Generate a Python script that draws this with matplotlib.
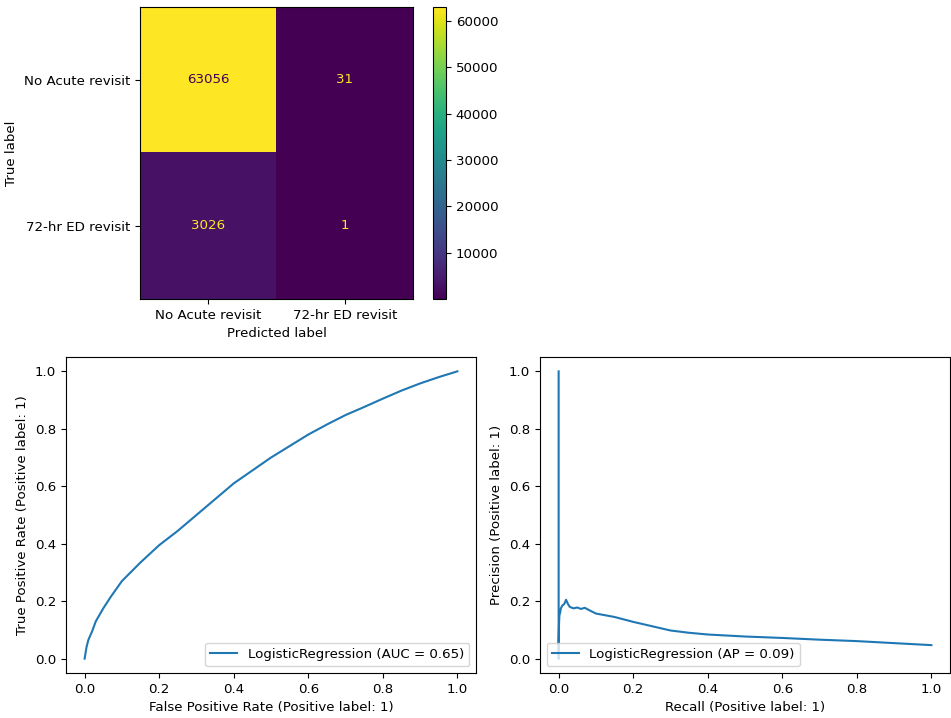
import numpy as np
import matplotlib
matplotlib.use("Agg")
import matplotlib.pyplot as plt

# confusion matrix
class_labels = ["No Acute revisit", "72-hr ED revisit"]
cm = np.array([[63056, 31],
               [3026, 1]])

# ROC curve
fpr = [0.0, 0.005, 0.01, 0.02, 0.03, 0.05, 0.07, 0.1, 0.15, 0.2, 0.25, 0.3,
       0.35, 0.4, 0.45, 0.5, 0.55, 0.6, 0.65, 0.7, 0.75, 0.8, 0.85, 0.9,
       0.95, 1.0]
tpr = [0.0, 0.04, 0.065, 0.095, 0.13, 0.175, 0.215, 0.27, 0.335, 0.395,
       0.445, 0.5, 0.555, 0.61, 0.655, 0.7, 0.74, 0.78, 0.815, 0.848,
       0.876, 0.905, 0.933, 0.958, 0.98, 1.0]
roc_auc = 0.65

# precision-recall curve
recall = [0.0, 0.0, 0.0, 0.001, 0.002, 0.004, 0.006, 0.01, 0.015, 0.02,
          0.025, 0.03, 0.04, 0.05, 0.06, 0.07, 0.08, 0.1, 0.15, 0.2, 0.25,
          0.3, 0.35, 0.4, 0.5, 0.6, 0.7, 0.8, 0.9, 1.0]
precision = [1.0, 0.0, 0.06, 0.12, 0.15, 0.16, 0.175, 0.185, 0.19, 0.205,
             0.19, 0.18, 0.175, 0.178, 0.173, 0.177, 0.17, 0.157, 0.145,
             0.128, 0.113, 0.098, 0.09, 0.084, 0.077, 0.072, 0.066, 0.061,
             0.054, 0.047]
avg_prec = 0.09

W, H = 951, 718
plt.rcParams['font.size'] = 9.6
fig = plt.figure(figsize=(W / 100, H / 100), dpi=100)

def box(l, t, r, b):
    return [l / W, 1 - b / H, (r - l) / W, (b - t) / H]

# --- confusion matrix
ax_cm = fig.add_axes(box(140, 7, 413, 299))
cax = fig.add_axes(box(433, 7, 446, 299))
cmap = plt.get_cmap("viridis")
im = ax_cm.imshow(cm, cmap=cmap, aspect="auto", interpolation="nearest")
thresh = (cm.max() + cm.min()) / 2.0
for i in range(cm.shape[0]):
    for j in range(cm.shape[1]):
        col = cmap(0.0) if cm[i, j] > thresh else cmap(1.0)
        ax_cm.text(j, i, str(cm[i, j]), ha="center", va="center", color=col)
ax_cm.set_xticks(range(2))
ax_cm.set_xticklabels(class_labels)
ax_cm.set_yticks(range(2))
ax_cm.set_yticklabels(class_labels)
ax_cm.set_xlabel("Predicted label")
ax_cm.set_ylabel("True label")
fig.colorbar(im, cax=cax)

# --- ROC
ax_roc = fig.add_axes(box(66, 357, 476, 673))
ax_roc.plot(fpr, tpr, label=f"LogisticRegression (AUC = {roc_auc:.2f})")
ax_roc.set_xlabel("False Positive Rate (Positive label: 1)")
ax_roc.set_ylabel("True Positive Rate (Positive label: 1)")
ax_roc.set_xlim(-0.05, 1.05)
ax_roc.set_ylim(-0.05, 1.05)
ax_roc.legend(loc="lower right")

# --- PR
ax_pr = fig.add_axes(box(540, 357, 950, 673))
ax_pr.plot(recall, precision, label=f"LogisticRegression (AP = {avg_prec:.2f})")
ax_pr.set_xlabel("Recall (Positive label: 1)")
ax_pr.set_ylabel("Precision (Positive label: 1)")
ax_pr.set_xlim(-0.05, 1.05)
ax_pr.set_ylim(-0.05, 1.05)
ax_pr.legend(loc="lower left")

plt.savefig("out.png", dpi=100)
